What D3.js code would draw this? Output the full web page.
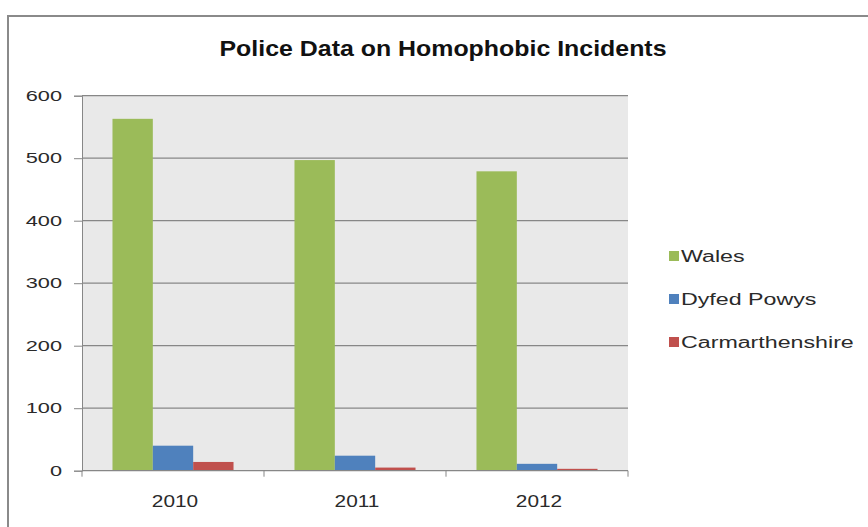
<!DOCTYPE html>
<html><head><meta charset="utf-8">
<script src="https://cdn.jsdelivr.net/npm/d3@7"></script>
<style>body{margin:0;background:#fff;}svg{display:block;}</style>
</head><body>
<script>
const categories = ["2010", "2011", "2012"];
const seriesNames = ["Wales", "Dyfed Powys", "Carmarthenshire"];
const wales = [563, 497, 479];
const dyfedPowys = [40, 24, 11];
const carmarthenshire = [14, 5, 3];
const yTicks = [0, 100, 200, 300, 400, 500, 600];
const colors = ["#9bbb59", "#4f81bd", "#c0504d"];
const title = "Police Data on Homophobic Incidents";

(function () {
const W = 868, H = 527;
const FONT = "Liberation Sans, Arial, sans-serif";
const svg = d3.select("body").append("svg").attr("width", W).attr("height", H);
svg.append("rect").attr("width", W).attr("height", H).attr("fill", "#fff");
// chart border
svg.append("rect").attr("x", 8).attr("y", 16).attr("width", W).attr("height", H)
  .attr("fill", "#fff").attr("stroke", "#8a8a8a").attr("stroke-width", 2);

// stretch text horizontally (reference is a widened image)
function stretch(sel, f) {
  sel.each(function () {
    const w = this.getComputedTextLength();
    d3.select(this).attr("textLength", w * f).attr("lengthAdjust", "spacingAndGlyphs");
  });
}

const pLeft = 82, pRight = 628, pTop = 95.7, pBottom = 470.7;
const x0 = d3.scaleBand().domain(categories).range([pLeft, pRight]).paddingInner(0.335).paddingOuter(0.1675);
const x1 = d3.scaleBand().domain(seriesNames).range([0, x0.bandwidth()]);
const y = d3.scaleLinear().domain([0, 600]).range([pBottom, pTop]);

svg.append("rect").attr("x", pLeft).attr("y", pTop).attr("width", pRight - pLeft).attr("height", pBottom - pTop)
  .attr("fill", "#e9e9e9");

// gridlines
svg.append("g").selectAll("line").data(yTicks.filter(d => d > 0)).join("line")
  .attr("x1", pLeft).attr("x2", pRight).attr("y1", d => y(d)).attr("y2", d => y(d))
  .attr("stroke", "#878787").attr("stroke-width", 1.3);

const data = [wales, dyfedPowys, carmarthenshire];
const g = svg.append("g");
categories.forEach((c, i) => {
  g.selectAll(null).data(seriesNames).join("rect")
    .attr("x", (s) => x0(c) + x1(s))
    .attr("width", x1.bandwidth())
    .attr("y", (s, j) => y(data[j][i]))
    .attr("height", (s, j) => pBottom - y(data[j][i]))
    .attr("fill", (s, j) => colors[j]);
});

// y axis (ticks via d3 axis, labels drawn with horizontal stretch)
const yAxis = d3.axisLeft(y).tickValues(yTicks).tickSize(8).tickFormat("");
const ya = svg.append("g").attr("transform", `translate(${pLeft},0)`).call(yAxis);
ya.select(".domain").attr("stroke", "#878787");
ya.selectAll(".tick line").attr("stroke", "#878787");
svg.append("g").selectAll("text").data(yTicks).join("text")
  .attr("transform", d => `translate(62,${y(d)}) scale(1.45,1)`)
  .attr("dy", "0.35em").attr("text-anchor", "end")
  .attr("font-family", FONT).attr("font-size", 15).attr("fill", "#2a2a2a")
  .text(d => d);

// x axis
const xa = svg.append("g").attr("transform", `translate(0,${pBottom})`);
xa.append("line").attr("x1", pLeft).attr("x2", pRight).attr("stroke", "#878787").attr("stroke-width", 1.3);
const bounds = categories.map(c => x0(c) - x0.step() * x0.paddingInner() / 2).concat([pRight]);
xa.selectAll(".tk").data(bounds).join("line").attr("class", "tk")
  .attr("x1", d => d).attr("x2", d => d).attr("y1", 0).attr("y2", 6).attr("stroke", "#878787");
const xl = xa.selectAll(".lbl").data(categories).join("text").attr("class", "lbl")
  .attr("x", d => x0(d) + x0.bandwidth() / 2 + 2).attr("y", 36)
  .attr("text-anchor", "middle").attr("font-family", FONT)
  .attr("font-size", 16).attr("fill", "#2a2a2a").text(d => d);
stretch(xl, 1.3);

// title
svg.append("text").attr("x", 443).attr("y", 56).attr("text-anchor", "middle")
  .attr("font-family", FONT).attr("font-weight", "bold")
  .attr("font-size", 22).attr("fill", "#111")
  .attr("textLength", 447).attr("lengthAdjust", "spacingAndGlyphs").text(title);

// legend
const lg = svg.append("g").attr("transform", "translate(669,0)");
const ly = [256, 299, 342];
seriesNames.forEach((s, i) => {
  lg.append("rect").attr("x", 0).attr("y", ly[i] - 5).attr("width", 10).attr("height", 10).attr("fill", colors[i]);
  const t = lg.append("text").attr("x", 12).attr("y", ly[i] + 6).attr("font-family", FONT)
    .attr("font-size", 16).attr("fill", "#2a2a2a").text(s);
  stretch(t, 1.45);
});
})();
</script>
</body></html>
